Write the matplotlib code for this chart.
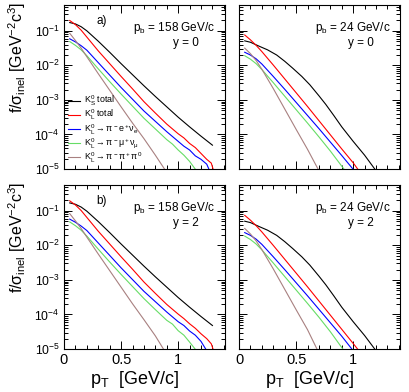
import numpy as np
import matplotlib
matplotlib.use("Agg")
from matplotlib import pyplot as plt
from matplotlib.ticker import LogLocator, MultipleLocator, NullFormatter

plt.rcParams['font.family'] = ['Liberation Sans', 'DejaVu Sans']
plt.rcParams['mathtext.fontset'] = 'custom'
plt.rcParams['mathtext.rm'] = 'Liberation Sans'
plt.rcParams['mathtext.it'] = 'Liberation Sans'
plt.rcParams['mathtext.bf'] = 'Liberation Sans:bold'

# log10(f/sigma_inel), per panel and per curve
# a) p_b = 158 GeV/c, y = 0
ks_a_pt = [0.05, 0.1, 0.15, 0.2, 0.3, 0.4, 0.5, 0.6, 0.7, 0.8, 0.9, 1.0, 1.1, 1.2, 1.3]
ks_a = [-0.76, -0.80, -0.88, -1.00, -1.30, -1.62, -1.95, -2.27, -2.59, -2.90, -3.20, -3.50, -3.78, -4.05, -4.31]
kl_a_pt = [0.05, 0.1, 0.15, 0.2, 0.3, 0.4, 0.5, 0.6, 0.7, 0.8, 0.9, 1.0, 1.05, 1.1, 1.15, 1.2, 1.25, 1.29, 1.31]
kl_a = [-0.70, -0.82, -0.98, -1.18, -1.58, -1.95, -2.32, -2.68, -3.05, -3.38, -3.70, -3.98, -4.10, -4.26, -4.38, -4.55, -4.72, -4.83, -5.05]
el_a_pt = [0.05, 0.1, 0.15, 0.2, 0.3, 0.4, 0.5, 0.6, 0.7, 0.8, 0.9, 1.0, 1.05, 1.1, 1.15, 1.2, 1.25, 1.275]
el_a = [-1.23, -1.32, -1.43, -1.56, -1.92, -2.28, -2.64, -2.98, -3.32, -3.62, -3.92, -4.20, -4.34, -4.45, -4.62, -4.72, -4.86, -5.05]
mu_a_pt = [0.05, 0.1, 0.15, 0.2, 0.3, 0.4, 0.5, 0.6, 0.7, 0.8, 0.9, 0.95, 1.0, 1.05, 1.1, 1.16]
mu_a = [-1.31, -1.42, -1.55, -1.72, -2.10, -2.47, -2.83, -3.18, -3.53, -3.84, -4.15, -4.28, -4.45, -4.60, -4.78, -5.05]
pi_a_pt = [0.05, 0.1, 0.15, 0.2, 0.3, 0.4, 0.5, 0.6, 0.7, 0.8, 0.89]
pi_a = [-1.07, -1.28, -1.50, -1.75, -2.24, -2.72, -3.20, -3.67, -4.12, -4.60, -5.05]

# b) p_b = 24 GeV/c, y = 0
ks_b_pt = [0.05, 0.1, 0.18, 0.25, 0.33, 0.4, 0.47, 0.55, 0.62, 0.7, 0.76, 0.83, 0.9, 1.0, 1.1, 1.2]
ks_b = [-1.29, -1.33, -1.45, -1.55, -1.70, -1.88, -2.08, -2.32, -2.56, -2.88, -3.13, -3.45, -3.78, -4.20, -4.60, -5.05]
kl_b_pt = [0.05, 0.1, 0.15, 0.2, 0.3, 0.4, 0.5, 0.6, 0.7, 0.8, 0.9, 1.0, 1.05]
kl_b = [-1.12, -1.26, -1.42, -1.60, -1.99, -2.39, -2.79, -3.19, -3.60, -4.01, -4.42, -4.82, -5.05]
el_b_pt = [0.05, 0.1, 0.15, 0.2, 0.3, 0.4, 0.5, 0.6, 0.7, 0.8, 0.9, 1.01]
el_b = [-1.62, -1.70, -1.81, -1.96, -2.32, -2.69, -3.07, -3.45, -3.83, -4.22, -4.61, -5.05]
mu_b_pt = [0.05, 0.1, 0.15, 0.2, 0.3, 0.4, 0.5, 0.6, 0.7, 0.8, 0.93]
mu_b = [-1.72, -1.82, -1.95, -2.12, -2.50, -2.89, -3.28, -3.67, -4.07, -4.48, -5.05]
pi_b_pt = [0.05, 0.1, 0.15, 0.2, 0.3, 0.4, 0.5, 0.6, 0.7]
pi_b = [-1.50, -1.66, -1.86, -2.11, -2.67, -3.26, -3.85, -4.43, -5.05]

# c) p_b = 158 GeV/c, y = 2
ks_c_pt = [0.05, 0.1, 0.15, 0.2, 0.3, 0.4, 0.5, 0.6, 0.7, 0.8, 0.9, 1.0, 1.1, 1.2, 1.3]
ks_c = [-0.77, -0.81, -0.89, -1.01, -1.31, -1.63, -1.96, -2.28, -2.60, -2.91, -3.21, -3.51, -3.79, -4.06, -4.32]
kl_c_pt = [0.05, 0.1, 0.15, 0.2, 0.3, 0.4, 0.5, 0.6, 0.7, 0.8, 0.9, 1.0, 1.05, 1.1, 1.15, 1.2, 1.25, 1.29, 1.31]
kl_c = [-0.71, -0.83, -0.99, -1.19, -1.59, -1.96, -2.33, -2.69, -3.06, -3.39, -3.71, -3.99, -4.12, -4.27, -4.40, -4.56, -4.70, -4.85, -5.05]
el_c_pt = [0.05, 0.1, 0.15, 0.2, 0.3, 0.4, 0.5, 0.6, 0.7, 0.8, 0.9, 1.0, 1.05, 1.1, 1.15, 1.2, 1.25]
el_c = [-1.24, -1.33, -1.44, -1.57, -1.93, -2.29, -2.65, -2.99, -3.33, -3.63, -3.93, -4.21, -4.32, -4.48, -4.60, -4.78, -5.05]
mu_c_pt = [0.05, 0.1, 0.15, 0.2, 0.3, 0.4, 0.5, 0.6, 0.7, 0.8, 0.9, 0.95, 1.0, 1.05, 1.1, 1.16]
mu_c = [-1.32, -1.43, -1.56, -1.73, -2.11, -2.48, -2.84, -3.19, -3.54, -3.86, -4.17, -4.28, -4.47, -4.60, -4.80, -5.05]
pi_c_pt = [0.05, 0.1, 0.15, 0.2, 0.3, 0.4, 0.5, 0.6, 0.7, 0.8, 0.88]
pi_c = [-1.08, -1.29, -1.51, -1.76, -2.25, -2.73, -3.21, -3.69, -4.15, -4.62, -5.05]

# d) p_b = 24 GeV/c, y = 2
ks_d_pt = [0.05, 0.1, 0.18, 0.25, 0.33, 0.4, 0.47, 0.55, 0.62, 0.7, 0.76, 0.83, 0.9, 1.0, 1.1, 1.2]
ks_d = [-1.30, -1.34, -1.46, -1.56, -1.71, -1.89, -2.09, -2.33, -2.57, -2.89, -3.14, -3.46, -3.79, -4.21, -4.61, -5.05]
kl_d_pt = [0.05, 0.1, 0.15, 0.2, 0.3, 0.4, 0.5, 0.6, 0.7, 0.8, 0.9, 1.0, 1.05]
kl_d = [-1.13, -1.27, -1.43, -1.61, -2.00, -2.40, -2.80, -3.20, -3.61, -4.02, -4.43, -4.84, -5.05]
el_d_pt = [0.05, 0.1, 0.15, 0.2, 0.3, 0.4, 0.5, 0.6, 0.7, 0.8, 0.9, 1.0]
el_d = [-1.63, -1.71, -1.82, -1.97, -2.33, -2.70, -3.08, -3.46, -3.85, -4.24, -4.63, -5.05]
mu_d_pt = [0.05, 0.1, 0.15, 0.2, 0.3, 0.4, 0.5, 0.6, 0.7, 0.8, 0.92]
mu_d = [-1.73, -1.83, -1.96, -2.13, -2.51, -2.90, -3.29, -3.68, -4.08, -4.50, -5.05]
pi_d_pt = [0.05, 0.1, 0.15, 0.2, 0.3, 0.4, 0.5, 0.6, 0.69]
pi_d = [-1.51, -1.67, -1.87, -2.12, -2.68, -3.27, -3.86, -4.44, -5.05]

labels = [r"K$^0_S$ total", r"K$^0_L$ total",
          r"K$^0_L$$\rightarrow\pi^-$e$^+\nu_e$",
          r"K$^0_L$$\rightarrow\pi^-\mu^+\nu_\mu$",
          r"K$^0_L$$\rightarrow\pi^-\pi^+\pi^0$"]
colors = ['black', '#ff0000', '#0000ff', '#66dd66', '#a88080']

panels = [
    ([(ks_a_pt, ks_a), (kl_a_pt, kl_a), (el_a_pt, el_a), (mu_a_pt, mu_a), (pi_a_pt, pi_a)], "a)", "158", "0"),
    ([(ks_b_pt, ks_b), (kl_b_pt, kl_b), (el_b_pt, el_b), (mu_b_pt, mu_b), (pi_b_pt, pi_b)], None, "24", "0"),
    ([(ks_c_pt, ks_c), (kl_c_pt, kl_c), (el_c_pt, el_c), (mu_c_pt, mu_c), (pi_c_pt, pi_c)], "b)", "158", "2"),
    ([(ks_d_pt, ks_d), (kl_d_pt, kl_d), (el_d_pt, el_d), (mu_d_pt, mu_d), (pi_d_pt, pi_d)], None, "24", "2"),
]

W, H = 409, 392
fig = plt.figure(figsize=(W / 100, H / 100), dpi=100)
boxes = [(64, 5), (239, 5), (64, 185), (239, 185)]
aw, ah = 161, 164

for i, (curves, tag, pb, yy) in enumerate(panels):
    x0, y0 = boxes[i]
    ax = fig.add_axes([x0 / W, 1 - (y0 + ah) / H, aw / W, ah / H])
    for (pt, lg), c, lab in zip(curves, colors, labels):
        ax.plot(pt, 10 ** np.array(lg), color=c, lw=0.8, label=lab)
    ax.set_yscale('log')
    ax.set_xlim(0, 1.41)
    ax.set_ylim(1e-5, 0.56)
    ax.xaxis.set_major_locator(MultipleLocator(0.5))
    ax.xaxis.set_minor_locator(MultipleLocator(0.1))
    ax.yaxis.set_major_locator(LogLocator(base=10, numticks=10))
    ax.yaxis.set_minor_locator(LogLocator(base=10, subs=np.arange(2, 10), numticks=20))
    ax.yaxis.set_minor_formatter(NullFormatter())
    ax.tick_params(which='both', direction='in', top=True, right=True, width=0.7, pad=3)
    ax.tick_params(axis='y', labelsize=8.8)
    ax.tick_params(axis='x', labelsize=10.5)
    ax.tick_params(which='major', length=6)
    ax.tick_params(which='minor', length=3)
    if i % 2 == 1:
        ax.tick_params(labelleft=False)
    if i < 2:
        ax.tick_params(labelbottom=False)
    else:
        ax.set_xticks([0, 0.5, 1])
        ax.set_xticklabels(['0', '0.5', '1'])
    for s in ax.spines.values():
        s.set_linewidth(0.8)
    if tag:
        ax.text(0.2, 0.905, tag, transform=ax.transAxes, fontsize=8.5, ha='left', va='center')
    ax.text(0.94, 0.86, r"p$_b$ = %s GeV/c" % pb, transform=ax.transAxes,
            fontsize=8.5, ha='right', va='center')
    ax.text(0.76, 0.77, "y = %s" % yy, transform=ax.transAxes, fontsize=8.5,
            ha='center', va='center')
    if i == 0:
        ax.legend(loc='lower left', bbox_to_anchor=(0.0, 0.0), frameon=False,
                  fontsize=6.4, handlelength=1.35, handletextpad=0.45,
                  labelspacing=0.0, borderaxespad=0.1)

ylab = r"f/σ$_{\rm inel}$ [GeV$^{-2}$c$^3$]"
fig.text(17 / W, 1 - 2 / H, ylab, rotation=90, ha='center', va='top', fontsize=11.5)
fig.text(17 / W, 1 - 182 / H, ylab, rotation=90, ha='center', va='top', fontsize=11.5)
xlab = r"p$_T$  [GeV/c]"
fig.text(179 / W, 1 - 380 / H, xlab, ha='right', va='center', fontsize=13)
fig.text(354 / W, 1 - 380 / H, xlab, ha='right', va='center', fontsize=13)

fig.savefig("out.png", dpi=100)
